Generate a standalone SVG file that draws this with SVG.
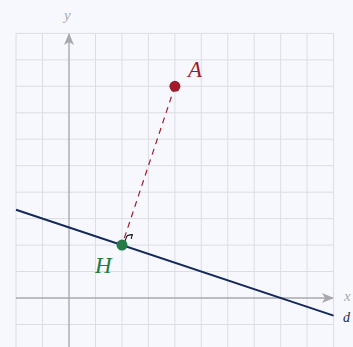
<svg xmlns="http://www.w3.org/2000/svg" width="353" height="347" viewBox="0 0 353 347">
  <style>
    .grid line { stroke: #dcdde3; stroke-width: 1; }
    .axis { stroke: #a9a9ad; stroke-width: 1.4; fill: none; }
    .axlbl { font-family: "Liberation Serif", serif; font-style: italic; font-size: 15px; fill: #a9a9ad; }
    .lbl { font-family: "Liberation Serif", serif; font-style: italic; font-size: 23px; }
  </style>
  <defs>
    <marker id="axArrow" viewBox="0 0 12 10" refX="11" refY="5" markerWidth="12" markerHeight="10" markerUnits="userSpaceOnUse" orient="auto">
      <path d="M0,0 L12,5 L0,10 L3,5 Z" fill="#a9a9ad"/>
    </marker>
  </defs>
  <rect width="353" height="347" fill="#f7f8fd"/>
  <g class="grid">
    <line x1="16" y1="33.4" x2="16" y2="351"/>
    <line x1="42.5" y1="33.4" x2="42.5" y2="351"/>
    <line x1="95.5" y1="33.4" x2="95.5" y2="351"/>
    <line x1="122" y1="33.4" x2="122" y2="351"/>
    <line x1="148.4" y1="33.4" x2="148.4" y2="351"/>
    <line x1="174.9" y1="33.4" x2="174.9" y2="351"/>
    <line x1="201.3" y1="33.4" x2="201.3" y2="351"/>
    <line x1="227.8" y1="33.4" x2="227.8" y2="351"/>
    <line x1="254.2" y1="33.4" x2="254.2" y2="351"/>
    <line x1="280.7" y1="33.4" x2="280.7" y2="351"/>
    <line x1="307.1" y1="33.4" x2="307.1" y2="351"/>
    <line x1="333.6" y1="33.4" x2="333.6" y2="351"/>
    <line x1="16" y1="33.4" x2="333.6" y2="33.4"/>
    <line x1="16" y1="59.9" x2="333.6" y2="59.9"/>
    <line x1="16" y1="86.3" x2="333.6" y2="86.3"/>
    <line x1="16" y1="112.8" x2="333.6" y2="112.8"/>
    <line x1="16" y1="139.2" x2="333.6" y2="139.2"/>
    <line x1="16" y1="165.7" x2="333.6" y2="165.7"/>
    <line x1="16" y1="192.2" x2="333.6" y2="192.2"/>
    <line x1="16" y1="218.6" x2="333.6" y2="218.6"/>
    <line x1="16" y1="245.1" x2="333.6" y2="245.1"/>
    <line x1="16" y1="271.5" x2="333.6" y2="271.5"/>
    <line x1="16" y1="324.5" x2="333.6" y2="324.5"/>
  </g>
  <g id="axes">
    <line class="axis" x1="16" y1="298" x2="333" y2="298" marker-end="url(#axArrow)"/>
    <line class="axis" x1="69" y1="347" x2="69" y2="34" marker-end="url(#axArrow)"/>
    <text class="axlbl" x="344" y="301">x</text>
    <text class="axlbl" x="64" y="20">y</text>
  </g>
  <g id="d">
    <line x1="16" y1="209.8" x2="333.6" y2="315.6" stroke="#14295a" stroke-width="2"/>
    <text x="343" y="322" font-family="Liberation Serif, serif" font-style="italic" font-size="14" fill="#14295a">d</text>
  </g>
  <g id="connectors">
    <line x1="174.9" y1="86.3" x2="122" y2="245.1" stroke="#a01c2c" stroke-width="1.2" stroke-dasharray="6,5"/>
    <path d="M125,241 L126.8,236.4 Q127.5,235 132.3,234.6 L131.2,238.8" fill="none" stroke="#111" stroke-width="1.1"/>
  </g>
  <g id="A">
    <circle cx="174.9" cy="86.3" r="5.5" fill="#a01c2c"/>
    <text class="lbl" x="188" y="77" fill="#a01c2c">A</text>
  </g>
  <g id="H">
    <circle cx="122" cy="245.1" r="5.5" fill="#237a45"/>
    <text class="lbl" x="95" y="273" fill="#237a45">H</text>
  </g>
</svg>
